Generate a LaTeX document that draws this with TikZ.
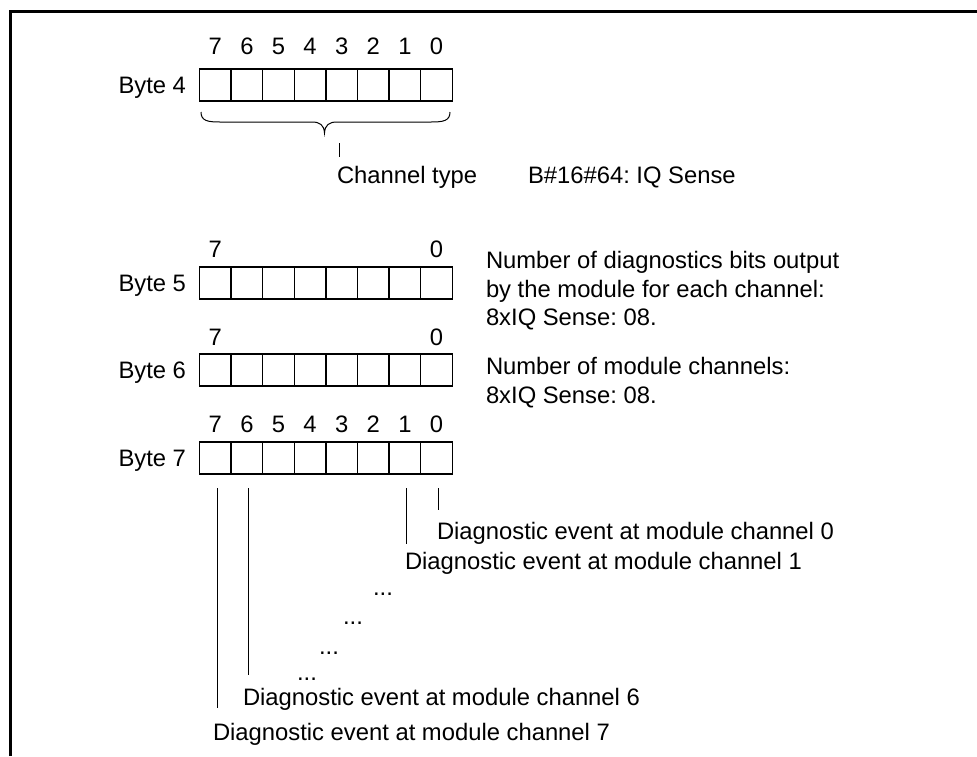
\documentclass[tikz,border=0pt]{standalone}
\usepackage{fontspec}
\setmainfont{Liberation Sans}
\frenchspacing
\begin{document}
\begin{tikzpicture}[x=1pt,y=-1pt,
  txt/.style={inner sep=0pt,outer sep=0pt,font=\fontsize{23.8}{28.6}\selectfont},
  cell/.style={draw,line width=1.4pt,minimum width=31.6pt,minimum height=32pt,inner sep=0pt,outer sep=0pt},
  conn/.style={line width=1pt},
  frame/.style={line width=2.6pt}]
\useasboundingbox (0,0) rectangle (977,756);
\draw[frame] (10.5,756) -- (10.5,11.5) -- (977,11.5);

% byte rows
\foreach \r/\cy in {4/85, 5/283, 6/370, 7/458}{
  \foreach \b in {0,...,7}{
    \node[cell] (b\r c\b) at ({215.3+31.6*(7-\b)},\cy) {};
  }
  \node[txt,anchor=base east] (lab\r) at (186,\cy+8.5) {Byte \r};
}
% bit numbers
\foreach \b in {0,...,7}{
  \node[txt,anchor=base] (n4\b) at ({215.3+31.6*(7-\b)},54) {\b};
  \node[txt,anchor=base] (n7\b) at ({215.3+31.6*(7-\b)},432) {\b};
}
\node[txt,anchor=base] (n57) at (215.3,257) {7};
\node[txt,anchor=base] (n50) at (436.5,257) {0};
\node[txt,anchor=base] (n67) at (215.3,345) {7};
\node[txt,anchor=base] (n60) at (436.5,345) {0};

% brace under byte 4
\draw[conn] (201,112) .. controls (201,121) and (208,122) .. (220,122)
  -- (312,122) .. controls (320,122) and (324,125) .. (324.5,133)
  .. controls (325,125) and (329,122) .. (337,122)
  -- (431,122) .. controls (443,122) and (450,121) .. (450,112);
\coordinate (tk1) at (339,143);
\coordinate (tk2) at (339,157);
\draw[conn] (tk1) -- (tk2);
\node[txt,anchor=base west] (ctype) at (337,183) {Channel type};
\node[txt,anchor=base west] (cval) at (528,183) {B\#16\#64: IQ Sense};

% right descriptions
\node[txt,anchor=base west] (d5a) at (486,268) {Number of diagnostics bits output};
\node[txt,anchor=base west] (d5b) at (486,297) {by the module for each channel:};
\node[txt,anchor=base west] (d5c) at (486,325) {8xIQ Sense: 08.};
\node[txt,anchor=base west] (d6a) at (486,374) {Number of module channels:};
\node[txt,anchor=base west] (d6b) at (486,403) {8xIQ Sense: 08.};

% byte 7 connectors
\draw[conn] ([shift={(2pt,-14pt)}]b7c0.south) -- ++(0,22);
\draw[conn] ([shift={(2pt,-14pt)}]b7c1.south) -- ++(0,56);
\draw[conn] ([shift={(2pt,-14pt)}]b7c6.south) -- ++(0,187);
\draw[conn] ([shift={(2pt,-14pt)}]b7c7.south) -- ++(0,220);

\node[txt,anchor=base west] (e0) at (437,539) {Diagnostic event at module channel 0};
\node[txt,anchor=base west] (e1) at (405,569) {Diagnostic event at module channel 1};
\node[txt,anchor=base] (dt1) at (383,595) {...};
\node[txt,anchor=base] (dt2) at (353,624) {...};
\node[txt,anchor=base] (dt3) at (329,654) {...};
\node[txt,anchor=base] (dt4) at (307,680) {...};
\node[txt,anchor=base west] (e6) at (243,705) {Diagnostic event at module channel 6};
\node[txt,anchor=base west] (e7) at (213,740) {Diagnostic event at module channel 7};
\end{tikzpicture}
\end{document}
